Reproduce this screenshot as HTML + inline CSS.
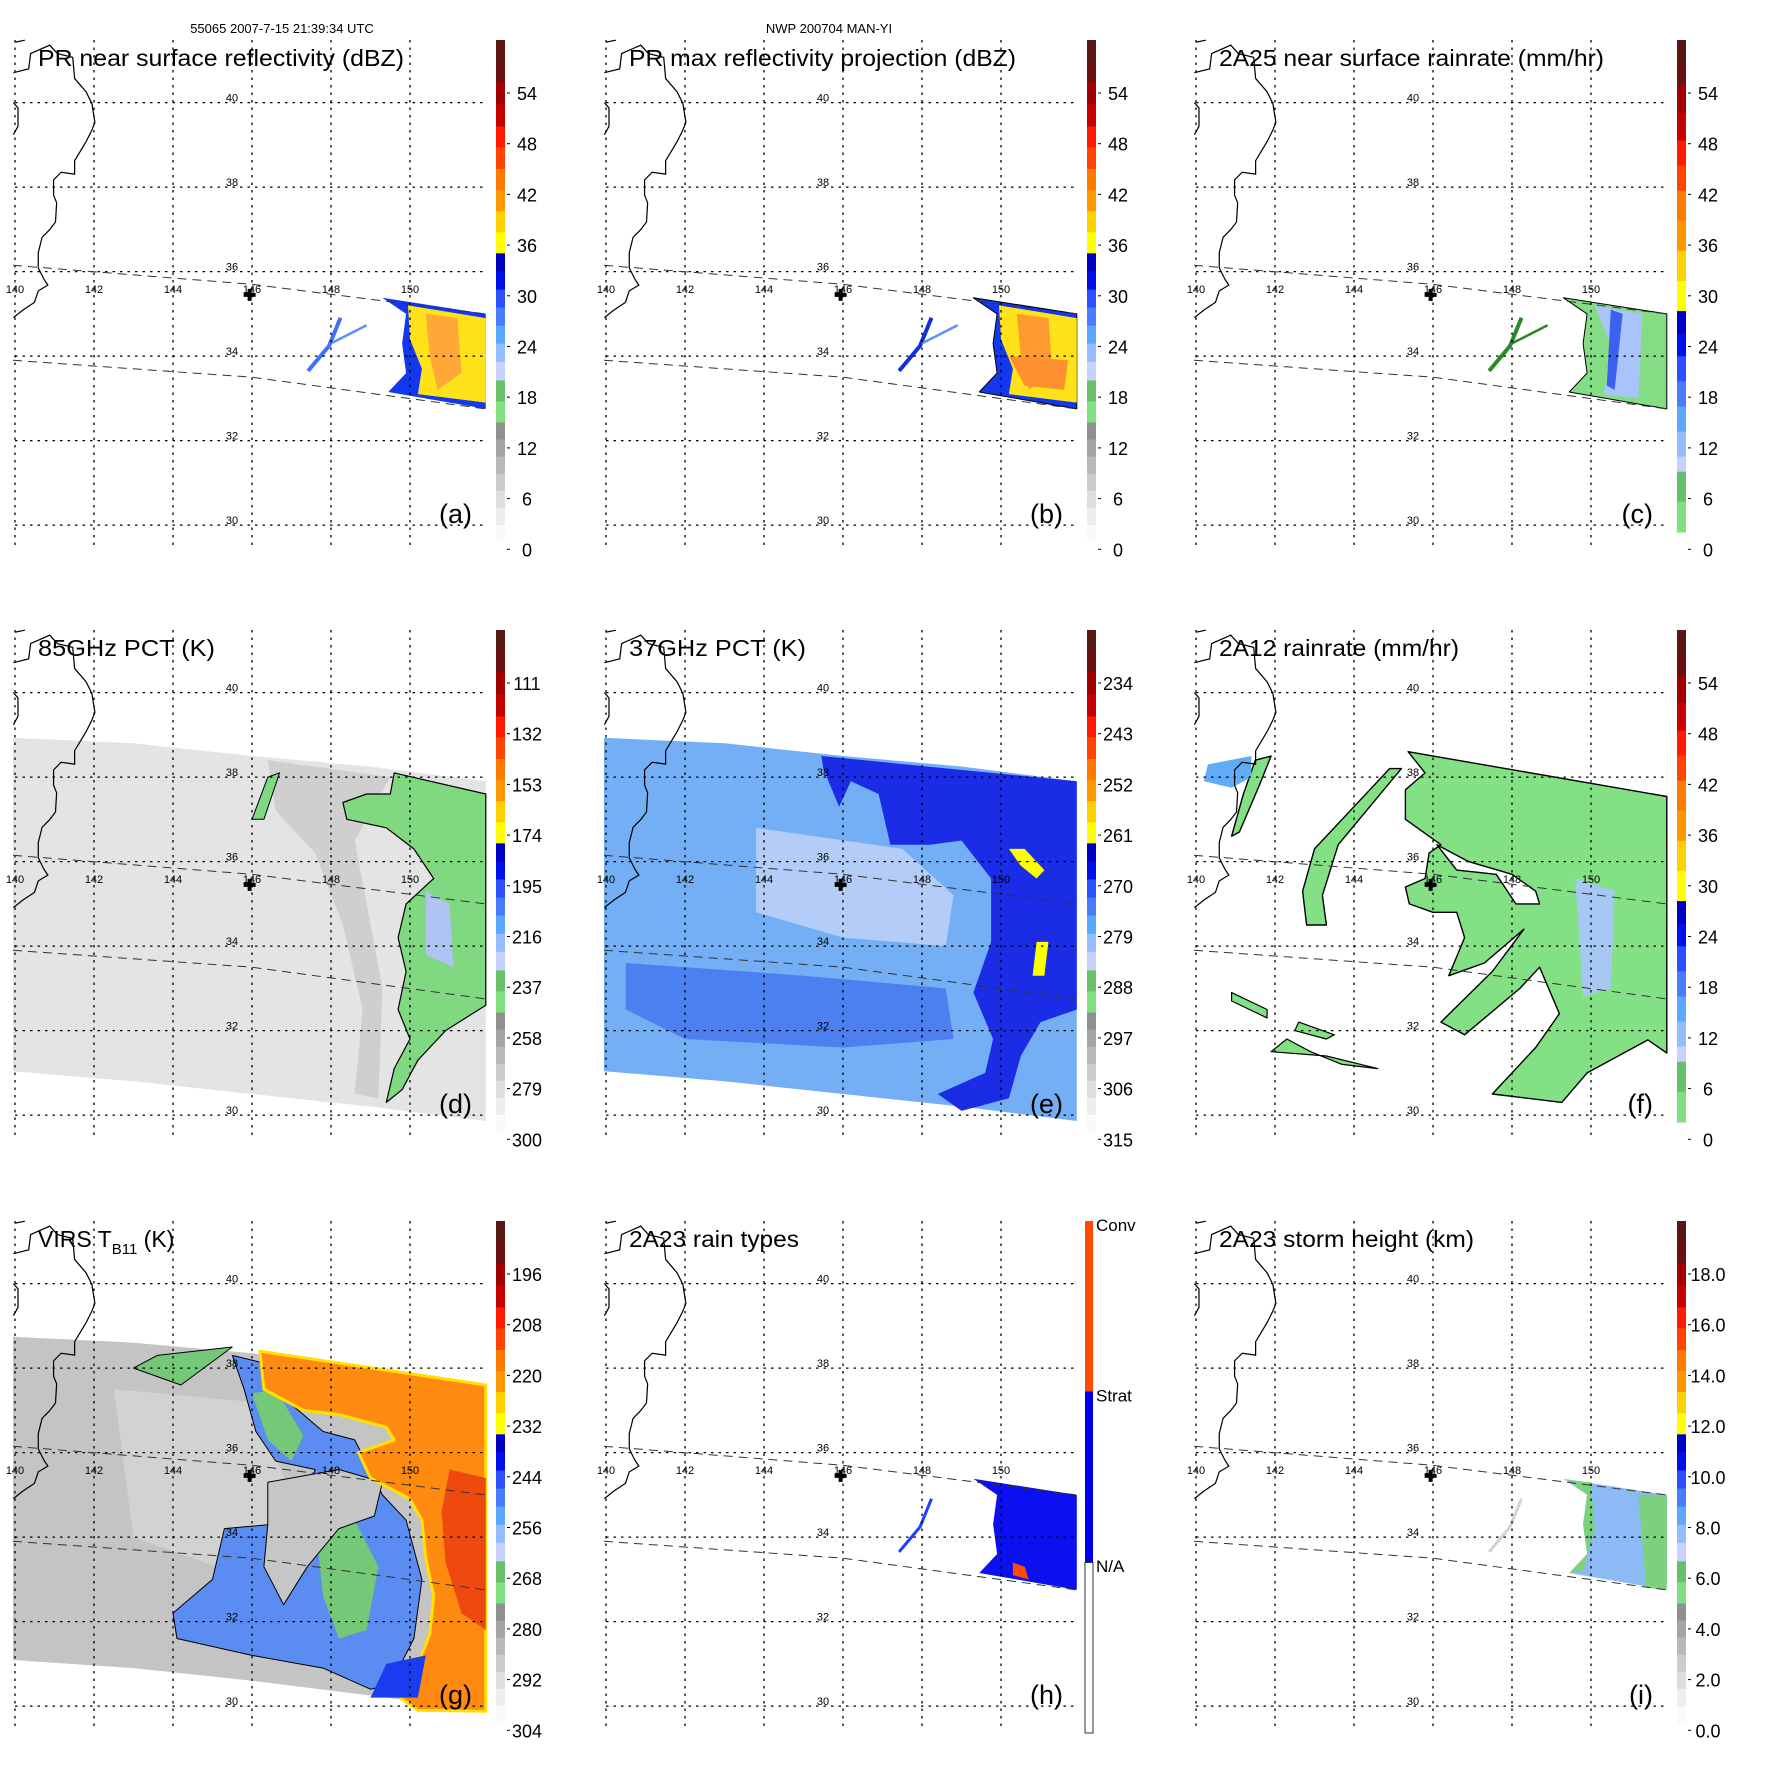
<!DOCTYPE html>
<html><head><meta charset="utf-8">
<style>
html,body{margin:0;padding:0;background:#fff;}
svg{display:block;font-family:"Liberation Sans",sans-serif;}
</style></head>
<body>
<svg id="fig" width="1771" height="1771" viewBox="0 0 1771 1771" xmlns="http://www.w3.org/2000/svg">
<text x="282" y="33" font-size="13" text-anchor="middle">55065 2007-7-15 21:39:34 UTC</text>
<text x="829" y="33" font-size="13" text-anchor="middle">NWP 200704 MAN-YI</text>
</svg>
<script>
// ---- axis data ----
const lonTicks = [140,142,144,146,148,150];
const latTicks = [30,32,34,36,38,40];
const colOffsets = [0,591,1181];
const rowOffsets = [0,590,1181];
const crossLoc = [145.94,35.45];
const cbLabelsDBZ = ["54","48","42","36","30","24","18","12","6","0"];
const cbLabelsRain = ["54","48","42","36","30","24","18","12","6","0"];
const cbLabels85 = ["111","132","153","174","195","216","237","258","279","300"];
const cbLabels37 = ["234","243","252","261","270","279","288","297","306","315"];
const cbLabelsVirs = ["196","208","220","232","244","256","268","280","292","304"];
const cbLabelsHt = ["18.0","16.0","14.0","12.0","10.0","8.0","6.0","4.0","2.0","0.0"];
const cbLabelsType = ["Conv","Strat","N/A"];
// swath edges (lon,lat)
const prUpper = [[139.95,36.15],[146,35.7],[151.92,35.0]];
const prLower = [[139.95,33.9],[146,33.5],[151.92,32.75]];
const tmiEdge = [[139.95,38.93],[143,38.8],[146,38.5],[149,38.25],[151.92,37.9],[151.92,29.86],[149,30.2],[146,30.5],[143,30.8],[139.95,31.04]];
const virsEdge = [[139.95,38.74],[143,38.6],[146,38.35],[149,38.0],[151.92,37.6],[151.92,29.88],[149,30.25],[146,30.6],[143,30.9],[139.95,31.09]];
const prEast = [[149.3,35.38],[151.92,35.0],[151.92,32.75],[149.45,33.15],[149.9,33.6],[149.8,34.3],[149.9,35.0]];
const prInner = [[149.95,35.2],[151.92,34.9],[151.92,32.9],[150.2,33.1],[150.3,33.7],[150.0,34.4]];
const prCore = [[150.4,35.0],[151.2,34.9],[151.3,33.6],[150.7,33.2],[150.5,34.0]];
const streak = [[147.42,33.65],[147.95,34.24],[148.24,34.91]];
const streakBranch = [[148.0,34.3],[148.9,34.73]];
// 85GHz green patches
const d85Green = [[149.6,38.1],[151.92,37.6],[151.92,32.6],[150.9,32.0],[150.2,31.3],[149.8,30.6],[149.4,30.3],[149.6,31.1],[150.0,31.8],[149.7,32.5],[149.9,33.4],[149.7,34.2],[149.9,35.0],[150.6,35.6],[150.1,36.3],[149.4,36.8],[148.4,37.0],[148.3,37.4],[148.9,37.6],[149.5,37.6]];
const d85Dark = [[146.4,38.4],[149.5,38.0],[148.6,36.5],[148.9,35.0],[149.3,33.0],[149.2,30.4],[148.6,30.5],[148.8,32.5],[148.3,34.5],[147.6,36.2],[146.6,37.2]];
const d85Streak = [[146.0,37.0],[146.4,38.0],[146.7,38.1],[146.3,37.0]];
// 37GHz regions
const e37Dark = [[145.45,38.5],[151.92,37.9],[151.92,32.5],[151.0,32.2],[150.5,31.4],[150.2,30.4],[149.0,30.1],[148.4,30.5],[149.6,31.0],[149.8,31.8],[149.3,32.9],[149.75,34.1],[149.75,35.6],[149.0,36.5],[148.2,36.4],[147.2,36.4],[146.9,37.6],[146.2,37.9],[145.9,37.3],[145.5,38.2]];
const e37Mid = [[140.5,33.6],[145,33.3],[148.6,33.0],[148.8,31.8],[146,31.6],[142,31.8],[140.5,32.5]];
const e37Light = [[143.8,36.8],[147.5,36.3],[148.8,35.2],[148.6,34.0],[146.0,34.2],[143.8,34.8]];
const e37Yellow = [[150.2,36.3],[150.6,36.3],[151.1,35.8],[150.9,35.6],[150.5,35.9]];
const e37Yellow2 = [[150.9,34.1],[151.2,34.1],[151.1,33.3],[150.8,33.3]];
// 2A12 rain regions
const f12Main = [[145.37,38.6],[151.92,37.54],[151.92,31.47],[151.44,31.78],[149.9,31.0],[149.26,30.3],[147.5,30.5],[148.6,31.6],[149.2,32.4],[148.7,33.5],[148.2,33.0],[146.8,31.9],[146.2,32.2],[147.5,33.4],[148.3,34.4],[147.3,33.6],[146.4,33.3],[146.8,34.2],[146.6,34.8],[146.0,34.8],[145.4,35.0],[145.3,35.4],[145.8,35.6],[145.9,36.2],[146.2,36.4],[145.3,37.0],[145.3,37.7],[145.8,38.1]];
const f12Hole = [[146.1,36.4],[146.9,36.0],[148.0,35.7],[148.6,35.3],[148.7,35.0],[148.1,35.0],[147.6,35.7],[146.6,35.8]];
const f12West = [[144.9,38.2],[145.2,38.2],[143.6,36.4],[143.2,35.2],[143.3,34.5],[142.8,34.5],[142.7,35.3],[143.0,36.3],[144.4,37.7]];
const f12Coast = [[141.5,38.4],[141.9,38.5],[141.6,37.8],[141.1,36.7],[140.9,36.6],[141.2,37.6]];
const f12Blue = [[140.3,38.3],[141.4,38.5],[141.4,38.0],[140.9,37.75],[140.2,37.9]];
const f12Isl1 = [[141.9,31.5],[143.3,31.4],[144.6,31.1],[143.7,31.2],[142.9,31.5],[142.3,31.8]];
const f12Isl2 = [[140.9,32.9],[141.8,32.5],[141.8,32.3],[140.9,32.7]];
const f12Isl3 = [[142.6,32.2],[143.5,31.9],[143.3,31.8],[142.5,32.0]];
// VIRS regions
const gOrange = [[146.2,38.4],[151.92,37.6],[151.92,29.88],[150.2,29.9],[149.6,30.3],[150.2,31.0],[150.5,31.7],[150.6,32.6],[150.4,33.5],[150.3,34.4],[150.0,34.9],[149.0,35.4],[148.7,36.0],[149.6,36.3],[149.4,36.6],[148.2,36.9],[147.3,37.0],[146.7,37.3],[146.3,37.5]];
const gRed = [[151.0,35.6],[151.92,35.4],[151.92,31.8],[151.3,32.2],[150.9,33.4],[150.8,34.6]];
const gBand = [[145.5,38.3],[146.4,38.1],[146.8,37.3],[147.8,36.5],[148.6,36.3],[149.3,35.0],[149.9,34.4],[150.3,33.0],[150.1,31.6],[149.5,30.5],[149.0,30.4],[147.8,30.9],[146.0,31.2],[144.1,31.6],[144.0,32.2],[145.0,33.0],[145.3,34.2],[146.5,34.3],[147.3,34.7],[147.6,35.6],[146.6,35.8],[146.1,36.5],[145.8,37.5]];
const gGrayTongue = [[146.4,35.3],[148.2,35.6],[149.3,35.3],[149.1,34.5],[148.2,34.2],[147.4,33.3],[146.8,32.4],[146.3,33.3],[146.4,34.3]];
const gGreen1 = [[146.0,37.4],[146.6,37.5],[147.3,36.4],[147.0,35.8],[146.4,36.3]];
const gGreen2 = [[147.6,34.3],[148.6,34.4],[149.2,33.3],[148.9,31.8],[148.2,31.6],[147.8,32.6]];
const gBlueDeep = [[149.4,31.0],[150.4,31.2],[150.2,30.2],[149.0,30.2]];
const gGreenLeft = [[143.0,38.0],[143.6,38.3],[145.5,38.5],[144.2,37.6]];
const hConv = [[150.3,33.4],[150.6,33.3],[150.7,33.0],[150.3,33.1]];
const iGreen1 = [[149.4,35.35],[150.0,35.3],[150.1,34.2],[149.8,33.2],[149.45,33.15],[149.9,33.6],[149.8,34.3],[149.9,35.0]];
const iGreen2 = [[151.2,35.0],[151.92,35.0],[151.92,32.75],[151.4,32.8]];
const cBlue = [[150.1,35.2],[151.3,35.0],[151.2,33.0],[150.3,33.1],[150.6,34.0]];
const cCore = [[150.5,35.1],[150.8,35.0],[150.6,33.2],[150.4,33.3]];

// ---- projection ----
function X(lon){ return 15 + (lon-140)*39.5; }
function Y(lat){ return 102.6 + (40-lat)*42.25; }
function pts(arr){ return arr.map(p => X(p[0]).toFixed(1)+','+Y(p[1]).toFixed(1)).join(' '); }

const NS = 'http://www.w3.org/2000/svg';
const svg = document.getElementById('fig');
function el(tag, parent){ const e = document.createElementNS(NS, tag); parent.appendChild(e); return e; }

const palStd = [['#5a1812',.042],['#6a1010',.042],['#a00000',.044],['#c40000',.044],['#ff1a00',.042],['#ff4400',.043],['#ff7a00',.042],['#ff9800',.042],['#ffd000',.042],['#ffff00',.042],
 ['#0000c0',.036],['#0010ea',.036],['#2a50ff',.036],['#4a7cff',.036],['#5aa8ff',.036],['#94bcff',.036],['#c8d2ff',.037],
 ['#68c068',.042],['#80e080',.042],['#909090',.034],['#a4a4a4',.034],['#b8b8b8',.034],['#cccccc',.034],['#dedede',.034],['#eeeeee',.034],['#fafafa',.034]];
const palRain = [['#5a1812',.045],['#6a1010',.045],['#a00000',.055],['#c40000',.055],['#ff1a00',.05],['#ff4400',.05],['#ff7a00',.06],['#ff9800',.06],['#ffd000',.06],['#ffff00',.06],
 ['#0000c0',.045],['#0010ea',.045],['#2a50ff',.05],['#4a7cff',.05],['#5aa8ff',.05],['#94bcff',.05],['#c8d2ff',.03],['#68c068',.06],['#80e080',.06]];
const palType = [['#ff4a00',.333],['#0000f0',.333],['#ffffff',.334]];

const panels = [
 {id:'a',col:0,row:0,title:'PR near surface reflectivity (dBZ)',tw:366,labels:cbLabelsDBZ,pal:palStd,kind:'prA'},
 {id:'b',col:1,row:0,title:'PR max reflectivity projection (dBZ)',tw:387,labels:cbLabelsDBZ,pal:palStd,kind:'prB'},
 {id:'c',col:2,row:0,title:'2A25 near surface rainrate (mm/hr)',tw:385,labels:cbLabelsRain,pal:palRain,kind:'prC'},
 {id:'d',col:0,row:1,title:'85GHz PCT (K)',tw:177,labels:cbLabels85,pal:palStd,kind:'d'},
 {id:'e',col:1,row:1,title:'37GHz PCT (K)',tw:177,labels:cbLabels37,pal:palStd,kind:'e'},
 {id:'f',col:2,row:1,title:'2A12 rainrate (mm/hr)',tw:240,labels:cbLabelsRain,pal:palRain,kind:'f'},
 {id:'g',col:0,row:2,title:'VIRS',tw:0,labels:cbLabelsVirs,pal:palStd,kind:'g'},
 {id:'h',col:1,row:2,title:'2A23 rain types',tw:170,labels:cbLabelsType,pal:palType,kind:'h'},
 {id:'i',col:2,row:2,title:'2A23 storm height (km)',tw:255,labels:cbLabelsHt,pal:palStd,kind:'i'}
];

function poly(g, arr, fill, stroke, sw){
  const p = el('polygon', g);
  p.setAttribute('points', pts(arr));
  p.setAttribute('fill', fill);
  if(stroke){ p.setAttribute('stroke', stroke); p.setAttribute('stroke-width', sw||1.2); p.setAttribute('stroke-linejoin','round'); }
  return p;
}

const coast = "40,110 65,105 M35,190 75,180 80,140 130,118 150,140 190,150 195,205 225,240 240,270 248,320 240,340 225,370 210,395 195,420 195,455 160,450 140,470 140,510 148,530 145,580 130,600 110,620 100,660 100,700 115,730 125,745 100,760 90,790 60,810 35,830 M35,268 47,282 47,330 35,352";

panels.forEach(p => {
  const g = el('g', svg);
  g.setAttribute('transform', `translate(${colOffsets[p.col]},${rowOffsets[p.row]})`);
  
  

  const field = el('g', g);
  
  

  if(p.kind==='prA' || p.kind==='prB'){
    poly(field, prEast, '#1238f0', p.kind==='prB'?'#000':null, 1);
    poly(field, prInner, '#ffe21a');
    poly(field, prCore, p.kind==='prB'?'#ff9a30':'#ffa838');
    if(p.kind==='prB'){ poly(field, [[150.2,34.0],[151.7,33.9],[151.6,33.2],[150.6,33.3]], '#ff9030'); }
    const s = el('polyline', field); s.setAttribute('points', pts(streak)); s.setAttribute('fill','none'); s.setAttribute('stroke', p.kind==='prB'?'#1030e0':'#4070ff'); s.setAttribute('stroke-width', 4);
    const s2 = el('polyline', field); s2.setAttribute('points', pts(streakBranch)); s2.setAttribute('fill','none'); s2.setAttribute('stroke','#5a90ff'); s2.setAttribute('stroke-width', 2.5);
  } else if(p.kind==='prC'){
    poly(field, prEast, '#84dc84', '#000', 1);
    poly(field, cBlue, '#a8c4fa');
    poly(field, cCore, '#3c60f0');
    const s = el('polyline', field); s.setAttribute('points', pts(streak)); s.setAttribute('fill','none'); s.setAttribute('stroke','#2a8a2a'); s.setAttribute('stroke-width', 4);
    const s2 = el('polyline', field); s2.setAttribute('points', pts(streakBranch)); s2.setAttribute('fill','none'); s2.setAttribute('stroke','#2a8a2a'); s2.setAttribute('stroke-width', 2.5);
  } else if(p.kind==='d'){
    poly(field, tmiEdge, '#e4e4e4');
    poly(field, d85Dark, '#cfcfcf');
    poly(field, d85Green, '#80d880', '#000', 1.2);
    poly(field, d85Streak, '#80d880', '#000', 1);
    poly(field, [[150.4,35.3],[151.0,35.0],[151.1,33.5],[150.4,33.8]], '#b0c4f4');
  } else if(p.kind==='e'){
    poly(field, tmiEdge, '#74aef4');
    poly(field, e37Light, '#b4ccf8');
    poly(field, e37Mid, '#4c80f0');
    poly(field, e37Dark, '#1a2ce6');
    poly(field, e37Yellow, '#ffff00');
    poly(field, e37Yellow2, '#ffff00');
  } else if(p.kind==='f'){
    poly(field, f12Main, '#84e084', '#000', 1.4);
    poly(field, f12Hole, '#ffffff', '#000', 1.4);
    poly(field, f12West, '#84e084', '#000', 1.4);
    poly(field, f12Coast, '#84e084', '#000', 1.4);
    poly(field, f12Blue, '#60acf6');
    poly(field, f12Isl1, '#84e084', '#000', 1.2);
    poly(field, f12Isl2, '#84e084', '#000', 1.2);
    poly(field, f12Isl3, '#84e084', '#000', 1.2);
    poly(field, [[149.6,35.6],[150.6,35.3],[150.5,33.0],[149.8,32.8]], '#a8c8f4');
  } else if(p.kind==='g'){
    poly(field, virsEdge, '#c4c4c4');
    poly(field, [[142.5,37.5],[146,37.2],[147,35],[146,33],[143,34]], '#d2d2d2');
    poly(field, gBand, '#5a8cf2', '#000', 1);
    poly(field, gGreen1, '#74c878');
    poly(field, gGreen2, '#74c878');
    poly(field, gGrayTongue, '#c6c6c6', '#000', 1);
    poly(field, gGreenLeft, '#74c878', '#000', 1);
    poly(field, gOrange, '#ff8a10', '#ffe000', 3);
    poly(field, gRed, '#ee4a10');
    poly(field, gBlueDeep, '#1a3cf0');
  } else if(p.kind==='h'){
    poly(field, prEast, '#0a10f0');
    poly(field, hConv, '#ff4a00');
    const s = el('polyline', field); s.setAttribute('points', pts(streak)); s.setAttribute('fill','none'); s.setAttribute('stroke','#2040ff'); s.setAttribute('stroke-width', 3);
  } else if(p.kind==='i'){
    poly(field, prEast, '#8cbaf4');
    poly(field, iGreen1, '#7cd27c');
    poly(field, iGreen2, '#7cd27c');
    const s = el('polyline', field); s.setAttribute('points', pts(streak)); s.setAttribute('fill','none'); s.setAttribute('stroke','#d4d4d4'); s.setAttribute('stroke-width', 3);
  }

  lonTicks.forEach(lon => {
    const l = el('line', g);
    l.setAttribute('x1', X(lon)); l.setAttribute('x2', X(lon)); l.setAttribute('y1', 40); l.setAttribute('y2', 550);
    l.setAttribute('stroke', '#000'); l.setAttribute('stroke-width', 1.3); l.setAttribute('stroke-dasharray', '2.5,5');
    
    
    const t = el('text', g);
    t.setAttribute('x', X(lon)); t.setAttribute('y', 293); t.setAttribute('font-size', 11); t.setAttribute('text-anchor','middle');
    t.textContent = lon;
    
    
  });
  latTicks.forEach(lat => {
    const l = el('line', g);
    l.setAttribute('x1', 15); l.setAttribute('x2', 486); l.setAttribute('y1', Y(lat)); l.setAttribute('y2', Y(lat));
    l.setAttribute('stroke', '#000'); l.setAttribute('stroke-width', 1.3); l.setAttribute('stroke-dasharray', '2.5,5');
    
    
    const t = el('text', g);
    t.setAttribute('x', 232); t.setAttribute('y', Y(lat)-1); t.setAttribute('font-size', 11); t.setAttribute('text-anchor','middle');
    t.textContent = lat;
    
    
  });

  [prUpper, prLower].forEach((edge, k) => {
    const l = el('polyline', g);
    l.setAttribute('points', pts(edge)); l.setAttribute('fill','none'); l.setAttribute('stroke','#333');
    l.setAttribute('stroke-width', 1); l.setAttribute('stroke-dasharray', '9,6');
    
    
  });

  const c = el('path', g);
  c.setAttribute('d', 'M' + coast);
  c.setAttribute('transform', 'scale(0.3827)');
  c.setAttribute('fill', 'none'); c.setAttribute('stroke', '#000'); c.setAttribute('stroke-width', 3.2);
  
  

  const cx = X(crossLoc[0]), cy = Y(crossLoc[1]);
  const cr = el('path', g);
  cr.setAttribute('d', `M${cx-6},${cy}H${cx+6}M${cx},${cy-6}V${cy+6}`);
  cr.setAttribute('stroke', '#000'); cr.setAttribute('stroke-width', 4);
  
  

  const tt = el('text', g);
  tt.setAttribute('x', 38); tt.setAttribute('y', 66); tt.setAttribute('font-size', 23);
  if(p.kind==='g'){
    tt.innerHTML = 'VIRS T<tspan font-size="15" dy="7">B11</tspan><tspan dy="-7"> (K)</tspan>';
  } else {
    tt.textContent = p.title;
    tt.setAttribute('textLength', p.tw); tt.setAttribute('lengthAdjust', 'spacingAndGlyphs');
  }
  
  

  const lt = el('text', g);
  lt.setAttribute('x', 472); lt.setAttribute('y', 523); lt.setAttribute('font-size', 27); lt.setAttribute('text-anchor','end');
  lt.textContent = '(' + p.id + ')';
  
  

  const cb = el('g', g);
  
  
  const top = 40, h = (p.kind==='h') ? 512 : 502, bx = (p.kind==='h') ? 494 : 496, bw = (p.kind==='h') ? 8 : 9;
  let yy = top;
  p.pal.forEach(([col, f]) => {
    const r = el('rect', cb);
    r.setAttribute('x', bx); r.setAttribute('y', yy.toFixed(2)); r.setAttribute('width', bw); r.setAttribute('height', (f*h+0.6).toFixed(2));
    r.setAttribute('fill', col);
    yy += f*h;
  });
  if(p.kind==='h'){
    const o = el('rect', cb);
    o.setAttribute('x', bx); o.setAttribute('y', top+h*0.667); o.setAttribute('width', bw); o.setAttribute('height', h*0.333);
    o.setAttribute('fill','none'); o.setAttribute('stroke','#000'); o.setAttribute('stroke-width',0.8);
    p.labels.forEach((lab, i) => {
      const t = el('text', cb);
      t.setAttribute('x', bx+11); t.setAttribute('y', top + i*h*0.333 + 10); t.setAttribute('font-size', 17);
      t.textContent = lab;
      
      
    });
  } else {
    p.labels.forEach((lab, i) => {
      const ty = 99 + i*50.7;
      const tk = el('line', cb);
      tk.setAttribute('x1', bx+bw+2); tk.setAttribute('x2', bx+bw+5); tk.setAttribute('y1', ty-6); tk.setAttribute('y2', ty-6);
      tk.setAttribute('stroke', '#000'); tk.setAttribute('stroke-width', 1);
      const t = el('text', cb);
      t.setAttribute('x', 527); t.setAttribute('y', ty+1); t.setAttribute('font-size', 18); t.setAttribute('text-anchor','middle');
      t.textContent = lab;
      
      
    });
  }
});
</script>
</body></html>
